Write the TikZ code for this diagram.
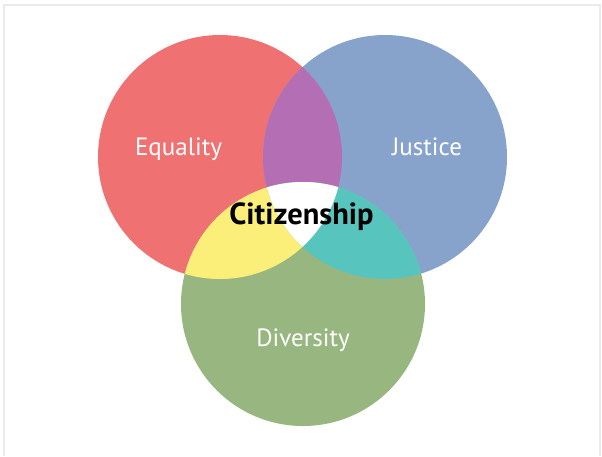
\documentclass[tikz,border=0pt]{standalone}
\usepackage{fontspec}
\setmainfont{PT Sans}
\usetikzlibrary{positioning}
\definecolor{eqred}{HTML}{EF7171}
\definecolor{jublue}{HTML}{87A2CB}
\definecolor{digreen}{HTML}{98B780}
\definecolor{mixpurple}{HTML}{B36EB4}
\definecolor{mixyellow}{HTML}{FBEF7A}
\definecolor{mixteal}{HTML}{57C5BE}
\definecolor{framegray}{HTML}{EBEBEB}

\begin{document}
\begin{tikzpicture}[x=1pt, y=-1pt,
    setname/.style={font=\fontsize{25}{29}\selectfont, text=white, anchor=base, inner sep=0pt},
    corename/.style={font=\fontsize{30.5}{34}\selectfont\bfseries, text=black, anchor=base, inner sep=0pt}]
        % Canvas and frame
        \useasboundingbox (0,0) rectangle (602,456);
        \draw[framegray, line width=2pt] (3.5,456) -- (3.5,5) -- (600,5) -- (600,456);

        % Circle centres
        \def\rad{122pt}
        \coordinate (eq) at (220,157);
        \coordinate (ju) at (385,157);
        \coordinate (di) at (303,304);

        % Sets
        \fill[eqred] (eq) circle (\rad);
        \fill[jublue] (ju) circle (\rad);
        \fill[digreen] (di) circle (\rad);

        % Pairwise overlaps
        \foreach \a/\b/\c in {eq/ju/mixpurple, eq/di/mixyellow, ju/di/mixteal} {
            \begin{scope}
                \clip (\a) circle (\rad);
                \fill[\c] (\b) circle (\rad);
            \end{scope}
        }

        % Centre overlap
        \begin{scope}
            \clip (eq) circle (\rad);
            \clip (ju) circle (\rad);
            \fill[white] (di) circle (\rad);
        \end{scope}

        % Labels
        \node[setname] (equality) at (178.5,155) {Equality};
        \node[setname] (justice) at (427,155) {Justice};
        \node[setname] (diversity) at (303,346) {Diversity};
        \node[corename] (citizenship) at (301.5,224) {Citizenship};
    \end{tikzpicture}
\end{document}
